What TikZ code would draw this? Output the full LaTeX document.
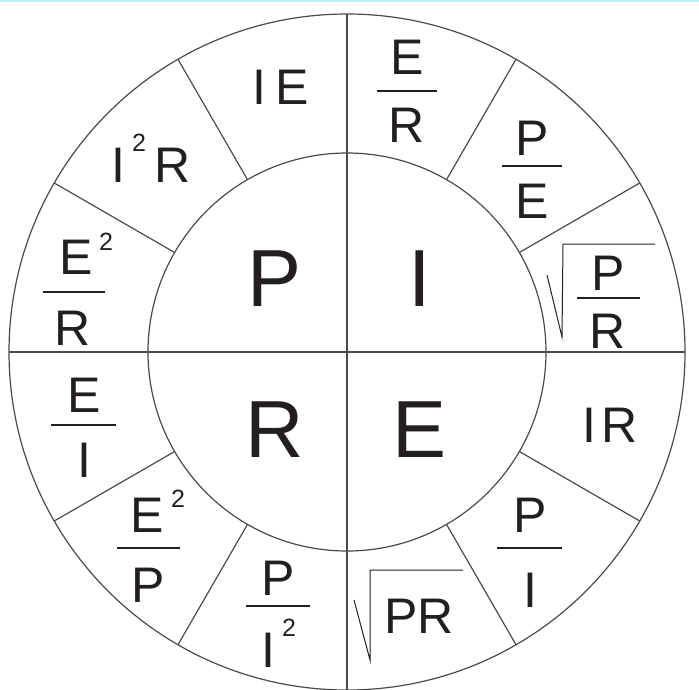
\documentclass[tikz,border=0pt]{standalone}
\usepackage{fontspec}
\setmainfont{Liberation Sans}
\usetikzlibrary{calc}
\definecolor{ink}{HTML}{231F20}
\definecolor{rimc}{HTML}{4A4A4A}
\definecolor{topline}{HTML}{BDEFF5}
\begin{document}
\begin{tikzpicture}[x=1pt,y=-1pt,
  lbl/.style={inner sep=0pt, text=ink, font=\fontsize{50}{60}\selectfont},
  big/.style={inner sep=0pt, text=ink, font=\fontsize{81}{90}\selectfont},
  sup/.style={inner sep=0pt, text=ink, font=\fontsize{25}{28}\selectfont},
  frline/.style={draw=ink, line width=1.4pt},
  rimline/.style={draw=rimc, line width=1.2pt},
  radline/.style={draw=ink, line width=1pt}]
\useasboundingbox (0,0) rectangle (699,689);
\draw[topline, line width=2pt] (0,1) -- (699,1);
% circles and dividers
\coordinate (c) at (347,352);
\draw[rimline] (c) circle (338pt);
\draw[rimline] (c) circle (199pt);
\draw[rimline] ($(c)+(90:338pt)$) -- ($(c)+(270:338pt)$);
\draw[rimline] ($(c)+(180:338pt)$) -- ($(c)+(0:338pt)$);
\foreach \a in {30,60,120,150,210,240,300,330}
  \draw[rimline] ($(c)+(\a:199pt)$) -- ($(c)+(\a:338pt)$);
% big letters
\node[big] (bigP) at (275,279) {P};
\node[big] (bigI) at (420,279) {I};
\node[big] (bigR) at (275,430) {R};
\node[big] (bigE) at (420,430) {E};
% IE
\node[lbl] (ie) at (281,87) {I\kern9pt E};
% E/R
\draw[frline] (377,91) -- (437,91);
\node[lbl] (erN) at (407,57) {E};
\node[lbl] (erD) at (407,125.5) {R};
% P/E
\draw[frline] (502,166) -- (562,166);
\node[lbl] (peN) at (532,138) {P};
\node[lbl] (peD) at (532,201) {E};
% sqrt(P/R)
\draw[radline] (547,275) -- (562,337) -- (563,244) -- (655,244);
\draw[frline] (577,298) -- (640,298);
\node[lbl] (prN) at (608,273) {P};
\node[lbl] (prD) at (608,331) {R};
% IR
\node[lbl] (ir) at (610,425) {I\kern6pt R};
% P/I
\draw[frline] (497,548) -- (562,548);
\node[lbl] (piN) at (530,515) {P};
\node[lbl] (piD) at (530,590) {I};
% sqrt(PR)
\draw[radline] (354,600) -- (370,660) -- (370,570) -- (463,570);
\node[lbl] (pr) at (419,616) {PR};
% P/I^2
\draw[frline] (246,606) -- (310,606);
\node[lbl] (pi2N) at (278,578) {P};
\node[lbl] (pi2D) at (268,650) {I};
\node[sup] (pi2S) at (289,628) {2};
% E^2/P
\draw[frline] (117,548) -- (180,548);
\node[lbl] (e2pN) at (147,515) {E};
\node[sup] (e2pS) at (178,499) {2};
\node[lbl] (e2pD) at (148,585) {P};
% E/I
\draw[frline] (51,425) -- (116,425);
\node[lbl] (eiN) at (84,395) {E};
\node[lbl] (eiD) at (84,460) {I};
% E^2/R
\draw[frline] (43,292) -- (105,292);
\node[lbl] (e2rN) at (76,257.5) {E};
\node[sup] (e2rS) at (106,242) {2};
\node[lbl] (e2rD) at (73,328) {R};
% I^2R
\node[lbl] (i2rI) at (118.5,165) {I};
\node[sup] (i2rS) at (139,143) {2};
\node[lbl] (i2rR) at (172.5,165) {R};
\end{tikzpicture}
\end{document}
